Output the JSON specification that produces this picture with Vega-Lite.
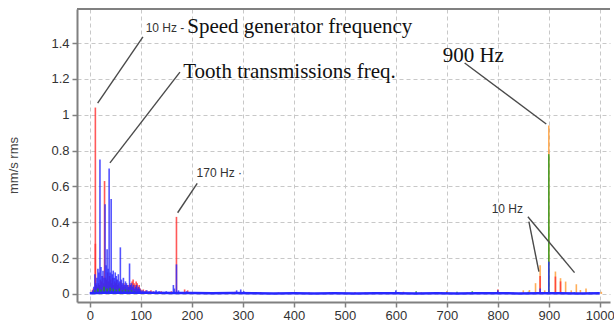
{
  "$schema": "https://vega.github.io/schema/vega-lite/v6.json",
  "width": 533,
  "height": 293,
  "autosize": {"type": "none"},
  "padding": {"left": 77, "top": 9, "right": 4, "bottom": 27},
  "background": "white",
  "config": {"view": {"stroke": null}, "font": "Liberation Sans"},
  "datasets": {
    "spectrum": [
      {"s": "orange", "f": 300, "v": 0.005}, {"s": "orange", "f": 700, "v": 0.015}, {"s": "orange", "f": 760, "v": 0.006},
      {"s": "orange", "f": 850, "v": 0.02}, {"s": "orange", "f": 862, "v": 0.022}, {"s": "orange", "f": 874, "v": 0.06},
      {"s": "orange", "f": 883, "v": 0.16}, {"s": "orange", "f": 892, "v": 0.02}, {"s": "orange", "f": 900, "v": 0.94},
      {"s": "orange", "f": 913, "v": 0.125}, {"s": "orange", "f": 923, "v": 0.088}, {"s": "orange", "f": 933, "v": 0.069},
      {"s": "orange", "f": 944, "v": 0.02}, {"s": "orange", "f": 954, "v": 0.054}, {"s": "orange", "f": 962, "v": 0.022},
      {"s": "orange", "f": 973, "v": 0.03}, {"s": "orange", "f": 985, "v": 0.01}, {"s": "orange", "f": 1003, "v": 0.012},
      {"s": "green", "f": 180, "v": 0.01}, {"s": "green", "f": 300, "v": 0.01}, {"s": "green", "f": 640, "v": 0.015},
      {"s": "green", "f": 700, "v": 0.01}, {"s": "green", "f": 720, "v": 0.012}, {"s": "green", "f": 750, "v": 0.015},
      {"s": "green", "f": 780, "v": 0.01}, {"s": "green", "f": 820, "v": 0.01}, {"s": "green", "f": 860, "v": 0.012},
      {"s": "green", "f": 900, "v": 0.78}, {"s": "green", "f": 950, "v": 0.01}, {"s": "green", "f": 980, "v": 0.01},
      {"s": "red", "f": 5, "v": 0.02}, {"s": "red", "f": 7, "v": 0.03}, {"s": "red", "f": 11, "v": 1.04}, {"s": "red", "f": 11, "v": 0.28},
      {"s": "red", "f": 13, "v": 0.05}, {"s": "red", "f": 15, "v": 0.04}, {"s": "red", "f": 17, "v": 0.06}, {"s": "red", "f": 19, "v": 0.05},
      {"s": "red", "f": 21, "v": 0.08}, {"s": "red", "f": 23, "v": 0.07}, {"s": "red", "f": 25, "v": 0.1}, {"s": "red", "f": 27, "v": 0.06},
      {"s": "red", "f": 29, "v": 0.63}, {"s": "red", "f": 31, "v": 0.09}, {"s": "red", "f": 33, "v": 0.08}, {"s": "red", "f": 35, "v": 0.12},
      {"s": "red", "f": 37, "v": 0.07}, {"s": "red", "f": 39, "v": 0.1}, {"s": "red", "f": 41, "v": 0.08}, {"s": "red", "f": 43, "v": 0.06},
      {"s": "red", "f": 45, "v": 0.09}, {"s": "red", "f": 47, "v": 0.05}, {"s": "red", "f": 49, "v": 0.07}, {"s": "red", "f": 51, "v": 0.06},
      {"s": "red", "f": 53, "v": 0.08}, {"s": "red", "f": 55, "v": 0.05}, {"s": "red", "f": 57, "v": 0.06}, {"s": "red", "f": 59, "v": 0.04},
      {"s": "red", "f": 61, "v": 0.07}, {"s": "red", "f": 63, "v": 0.05}, {"s": "red", "f": 65, "v": 0.04}, {"s": "red", "f": 67, "v": 0.06},
      {"s": "red", "f": 69, "v": 0.04}, {"s": "red", "f": 71, "v": 0.05}, {"s": "red", "f": 73, "v": 0.03}, {"s": "red", "f": 75, "v": 0.05},
      {"s": "red", "f": 77, "v": 0.04}, {"s": "red", "f": 79, "v": 0.06}, {"s": "red", "f": 81, "v": 0.05}, {"s": "red", "f": 83, "v": 0.07},
      {"s": "red", "f": 85, "v": 0.08}, {"s": "red", "f": 87, "v": 0.06}, {"s": "red", "f": 89, "v": 0.05}, {"s": "red", "f": 91, "v": 0.07},
      {"s": "red", "f": 93, "v": 0.06}, {"s": "red", "f": 95, "v": 0.04}, {"s": "red", "f": 97, "v": 0.05}, {"s": "red", "f": 99, "v": 0.03},
      {"s": "red", "f": 101, "v": 0.02}, {"s": "red", "f": 105, "v": 0.025}, {"s": "red", "f": 110, "v": 0.02}, {"s": "red", "f": 115, "v": 0.015},
      {"s": "red", "f": 120, "v": 0.02}, {"s": "red", "f": 125, "v": 0.015}, {"s": "red", "f": 130, "v": 0.01}, {"s": "red", "f": 140, "v": 0.015},
      {"s": "red", "f": 146, "v": 0.01}, {"s": "red", "f": 152, "v": 0.01}, {"s": "red", "f": 160, "v": 0.015}, {"s": "red", "f": 170, "v": 0.43},
      {"s": "red", "f": 178, "v": 0.01}, {"s": "red", "f": 186, "v": 0.025}, {"s": "red", "f": 192, "v": 0.02}, {"s": "red", "f": 200, "v": 0.01},
      {"s": "red", "f": 230, "v": 0.01}, {"s": "red", "f": 245, "v": 0.008}, {"s": "red", "f": 262, "v": 0.01}, {"s": "red", "f": 285, "v": 0.012},
      {"s": "red", "f": 310, "v": 0.008}, {"s": "red", "f": 335, "v": 0.01}, {"s": "red", "f": 370, "v": 0.008}, {"s": "red", "f": 395, "v": 0.01},
      {"s": "red", "f": 430, "v": 0.008}, {"s": "red", "f": 470, "v": 0.01}, {"s": "red", "f": 500, "v": 0.008}, {"s": "red", "f": 520, "v": 0.01},
      {"s": "red", "f": 540, "v": 0.008}, {"s": "red", "f": 560, "v": 0.01}, {"s": "red", "f": 590, "v": 0.008}, {"s": "red", "f": 615, "v": 0.012},
      {"s": "red", "f": 650, "v": 0.008}, {"s": "red", "f": 690, "v": 0.01}, {"s": "red", "f": 740, "v": 0.008}, {"s": "red", "f": 790, "v": 0.01},
      {"s": "red", "f": 800, "v": 0.025}, {"s": "red", "f": 830, "v": 0.008}, {"s": "red", "f": 883, "v": 0.1}, {"s": "red", "f": 913, "v": 0.097},
      {"s": "red", "f": 923, "v": 0.07},
      {"s": "blue", "f": 4, "v": 0.01}, {"s": "blue", "f": 6, "v": 0.02}, {"s": "blue", "f": 8, "v": 0.04}, {"s": "blue", "f": 10, "v": 0.11},
      {"s": "blue", "f": 12, "v": 0.06}, {"s": "blue", "f": 14, "v": 0.09}, {"s": "blue", "f": 16, "v": 0.14}, {"s": "blue", "f": 18, "v": 0.12},
      {"s": "blue", "f": 20, "v": 0.75}, {"s": "blue", "f": 22, "v": 0.15}, {"s": "blue", "f": 24, "v": 0.1}, {"s": "blue", "f": 26, "v": 0.13},
      {"s": "blue", "f": 28, "v": 0.09}, {"s": "blue", "f": 30, "v": 0.5}, {"s": "blue", "f": 32, "v": 0.16}, {"s": "blue", "f": 34, "v": 0.25},
      {"s": "blue", "f": 36, "v": 0.14}, {"s": "blue", "f": 38, "v": 0.7}, {"s": "blue", "f": 40, "v": 0.12}, {"s": "blue", "f": 42, "v": 0.53},
      {"s": "blue", "f": 44, "v": 0.11}, {"s": "blue", "f": 46, "v": 0.13}, {"s": "blue", "f": 48, "v": 0.09}, {"s": "blue", "f": 50, "v": 0.12},
      {"s": "blue", "f": 52, "v": 0.1}, {"s": "blue", "f": 54, "v": 0.08}, {"s": "blue", "f": 56, "v": 0.11}, {"s": "blue", "f": 58, "v": 0.07},
      {"s": "blue", "f": 60, "v": 0.26}, {"s": "blue", "f": 62, "v": 0.08}, {"s": "blue", "f": 64, "v": 0.06}, {"s": "blue", "f": 66, "v": 0.09},
      {"s": "blue", "f": 68, "v": 0.05}, {"s": "blue", "f": 70, "v": 0.07}, {"s": "blue", "f": 72, "v": 0.06}, {"s": "blue", "f": 74, "v": 0.05},
      {"s": "blue", "f": 76, "v": 0.04}, {"s": "blue", "f": 78, "v": 0.17}, {"s": "blue", "f": 80, "v": 0.05}, {"s": "blue", "f": 82, "v": 0.06},
      {"s": "blue", "f": 84, "v": 0.04}, {"s": "blue", "f": 86, "v": 0.05}, {"s": "blue", "f": 88, "v": 0.03}, {"s": "blue", "f": 90, "v": 0.04},
      {"s": "blue", "f": 92, "v": 0.05}, {"s": "blue", "f": 94, "v": 0.03}, {"s": "blue", "f": 96, "v": 0.04}, {"s": "blue", "f": 98, "v": 0.03},
      {"s": "blue", "f": 100, "v": 0.02}, {"s": "blue", "f": 104, "v": 0.02}, {"s": "blue", "f": 108, "v": 0.015}, {"s": "blue", "f": 112, "v": 0.02},
      {"s": "blue", "f": 118, "v": 0.015}, {"s": "blue", "f": 124, "v": 0.01}, {"s": "blue", "f": 130, "v": 0.02}, {"s": "blue", "f": 136, "v": 0.015},
      {"s": "blue", "f": 142, "v": 0.01}, {"s": "blue", "f": 150, "v": 0.015}, {"s": "blue", "f": 158, "v": 0.01}, {"s": "blue", "f": 164, "v": 0.05},
      {"s": "blue", "f": 166, "v": 0.03}, {"s": "blue", "f": 170, "v": 0.165}, {"s": "blue", "f": 174, "v": 0.02}, {"s": "blue", "f": 190, "v": 0.015},
      {"s": "blue", "f": 288, "v": 0.02}, {"s": "blue", "f": 296, "v": 0.025}, {"s": "blue", "f": 302, "v": 0.015}, {"s": "blue", "f": 600, "v": 0.02},
      {"s": "blue", "f": 640, "v": 0.01}, {"s": "blue", "f": 800, "v": 0.02}, {"s": "blue", "f": 883, "v": 0.03}, {"s": "blue", "f": 900, "v": 0.18},
      {"s": "green", "f": 10, "v": 0.02}, {"s": "green", "f": 16, "v": 0.03}, {"s": "green", "f": 22, "v": 0.025}, {"s": "green", "f": 28, "v": 0.04},
      {"s": "green", "f": 34, "v": 0.03}, {"s": "green", "f": 40, "v": 0.035}, {"s": "green", "f": 46, "v": 0.03}, {"s": "green", "f": 52, "v": 0.025},
      {"s": "green", "f": 58, "v": 0.03}, {"s": "green", "f": 64, "v": 0.02}, {"s": "green", "f": 70, "v": 0.025}, {"s": "green", "f": 76, "v": 0.02},
      {"s": "green", "f": 82, "v": 0.02}, {"s": "green", "f": 88, "v": 0.015}, {"s": "green", "f": 94, "v": 0.01}
    ],
    "floor": [
      {"f": 0, "v": 0.004}, {"f": 40, "v": 0.008}, {"f": 80, "v": 0.007}, {"f": 120, "v": 0.006}, {"f": 160, "v": 0.005},
      {"f": 200, "v": 0.005}, {"f": 240, "v": 0.004}, {"f": 280, "v": 0.005}, {"f": 320, "v": 0.004}, {"f": 360, "v": 0.003},
      {"f": 400, "v": 0.004}, {"f": 440, "v": 0.003}, {"f": 480, "v": 0.004}, {"f": 520, "v": 0.003}, {"f": 560, "v": 0.004},
      {"f": 600, "v": 0.004}, {"f": 640, "v": 0.003}, {"f": 680, "v": 0.004}, {"f": 720, "v": 0.003}, {"f": 760, "v": 0.004},
      {"f": 800, "v": 0.004}, {"f": 840, "v": 0.003}, {"f": 880, "v": 0.004}, {"f": 920, "v": 0.004}, {"f": 960, "v": 0.003},
      {"f": 1000, "v": 0.004}
    ],
    "leaders": [
      {"x": 15.5, "y": 1.065, "x2": 104.3, "y2": 1.434},
      {"x": 39.6, "y": 0.731, "x2": 176.8, "y2": 1.238},
      {"x": 172.3, "y": 0.453, "x2": 210.7, "y2": 0.617},
      {"x": 735, "y": 1.289, "x2": 895, "y2": 0.948},
      {"x": 861, "y": 0.403, "x2": 880.6, "y2": 0.124},
      {"x": 859, "y": 0.431, "x2": 950.5, "y2": 0.119}
    ],
    "serifText": [
      {"x": 191.1, "y": 1.454, "t": "Speed generator frequency"},
      {"x": 183.2, "y": 1.203, "t": "Tooth transmissions freq."},
      {"x": 692, "y": 1.294, "t": "900 Hz"}
    ],
    "sansText": [
      {"x": 109.6, "y": 1.462, "t": "10 Hz -"},
      {"x": 209.5, "y": 0.6525, "t": "170 Hz ·"},
      {"x": 788, "y": 0.454, "t": "10 Hz"}
    ]
  },
  "layer": [
    {
      "data": {"name": "spectrum"},
      "mark": {"type": "rule", "strokeWidth": 1.6, "opacity": 0.8, "clip": true},
      "encoding": {
        "x": {
          "field": "f", "type": "quantitative",
          "scale": {"domain": [-25, 1020], "nice": false, "zero": false},
          "axis": {
            "values": [0, 100, 200, 300, 400, 500, 600, 700, 800, 900, 1000],
            "format": "d", "title": null, "grid": true, "gridDash": [4, 3], "gridColor": "#c8c8c8",
            "domainColor": "#808080", "domainWidth": 2, "tickColor": "#808080", "tickSize": 5, "tickWidth": 1.5,
            "labelFontSize": 13, "labelColor": "#333333", "labelPadding": 2, "labelFont": "Liberation Sans"
          }
        },
        "y": {
          "field": "v", "type": "quantitative",
          "scale": {"domain": [-0.045, 1.59], "nice": false, "zero": false},
          "axis": {
            "values": [0, 0.2, 0.4, 0.6, 0.8, 1, 1.2, 1.4],
            "format": "~f", "title": "mm/s rms", "grid": true, "gridDash": [4, 3], "gridColor": "#c8c8c8",
            "domainColor": "#808080", "domainWidth": 2, "tickColor": "#808080", "tickSize": 5, "tickWidth": 1.5,
            "labelFontSize": 13, "labelColor": "#333333", "labelPadding": 3, "labelFont": "Liberation Sans",
            "titleFontSize": 13, "titleFontWeight": "normal", "titleColor": "#444444", "titleFont": "Liberation Sans",
            "titleX": -64, "titleY": 156, "titleAngle": -90, "titleBaseline": "middle", "titleAlign": "center"
          }
        },
        "y2": {"datum": 0},
        "color": {
          "field": "s", "type": "nominal", "legend": null,
          "scale": {"domain": ["red", "blue", "green", "orange"], "range": ["#ff3030", "#2828ff", "#209a20", "#ff9a30"]}
        }
      }
    },
    {
      "data": {"name": "floor"},
      "mark": {"type": "line", "color": "#2828ff", "strokeWidth": 2.5, "clip": true},
      "encoding": {
        "x": {"field": "f", "type": "quantitative"},
        "y": {"field": "v", "type": "quantitative"}
      }
    },
    {
      "data": {"name": "floor"},
      "mark": {"type": "rule", "color": "#808080", "strokeWidth": 2},
      "encoding": {"y": {"datum": 1.59, "type": "quantitative"}}
    },
    {
      "data": {"name": "leaders"},
      "mark": {"type": "rule", "color": "#4a4a4a", "strokeWidth": 1.4},
      "encoding": {
        "x": {"field": "x", "type": "quantitative"},
        "y": {"field": "y", "type": "quantitative"},
        "x2": {"field": "x2"},
        "y2": {"field": "y2"}
      }
    },
    {
      "data": {"name": "serifText"},
      "mark": {"type": "text", "font": "Liberation Serif", "fontSize": 21, "color": "#111111", "align": "left", "baseline": "alphabetic"},
      "encoding": {
        "x": {"field": "x", "type": "quantitative"},
        "y": {"field": "y", "type": "quantitative"},
        "text": {"field": "t"}
      }
    },
    {
      "data": {"name": "sansText"},
      "mark": {"type": "text", "font": "Liberation Sans", "fontSize": 12, "color": "#333333", "align": "left", "baseline": "alphabetic"},
      "encoding": {
        "x": {"field": "x", "type": "quantitative"},
        "y": {"field": "y", "type": "quantitative"},
        "text": {"field": "t"}
      }
    }
  ]
}
